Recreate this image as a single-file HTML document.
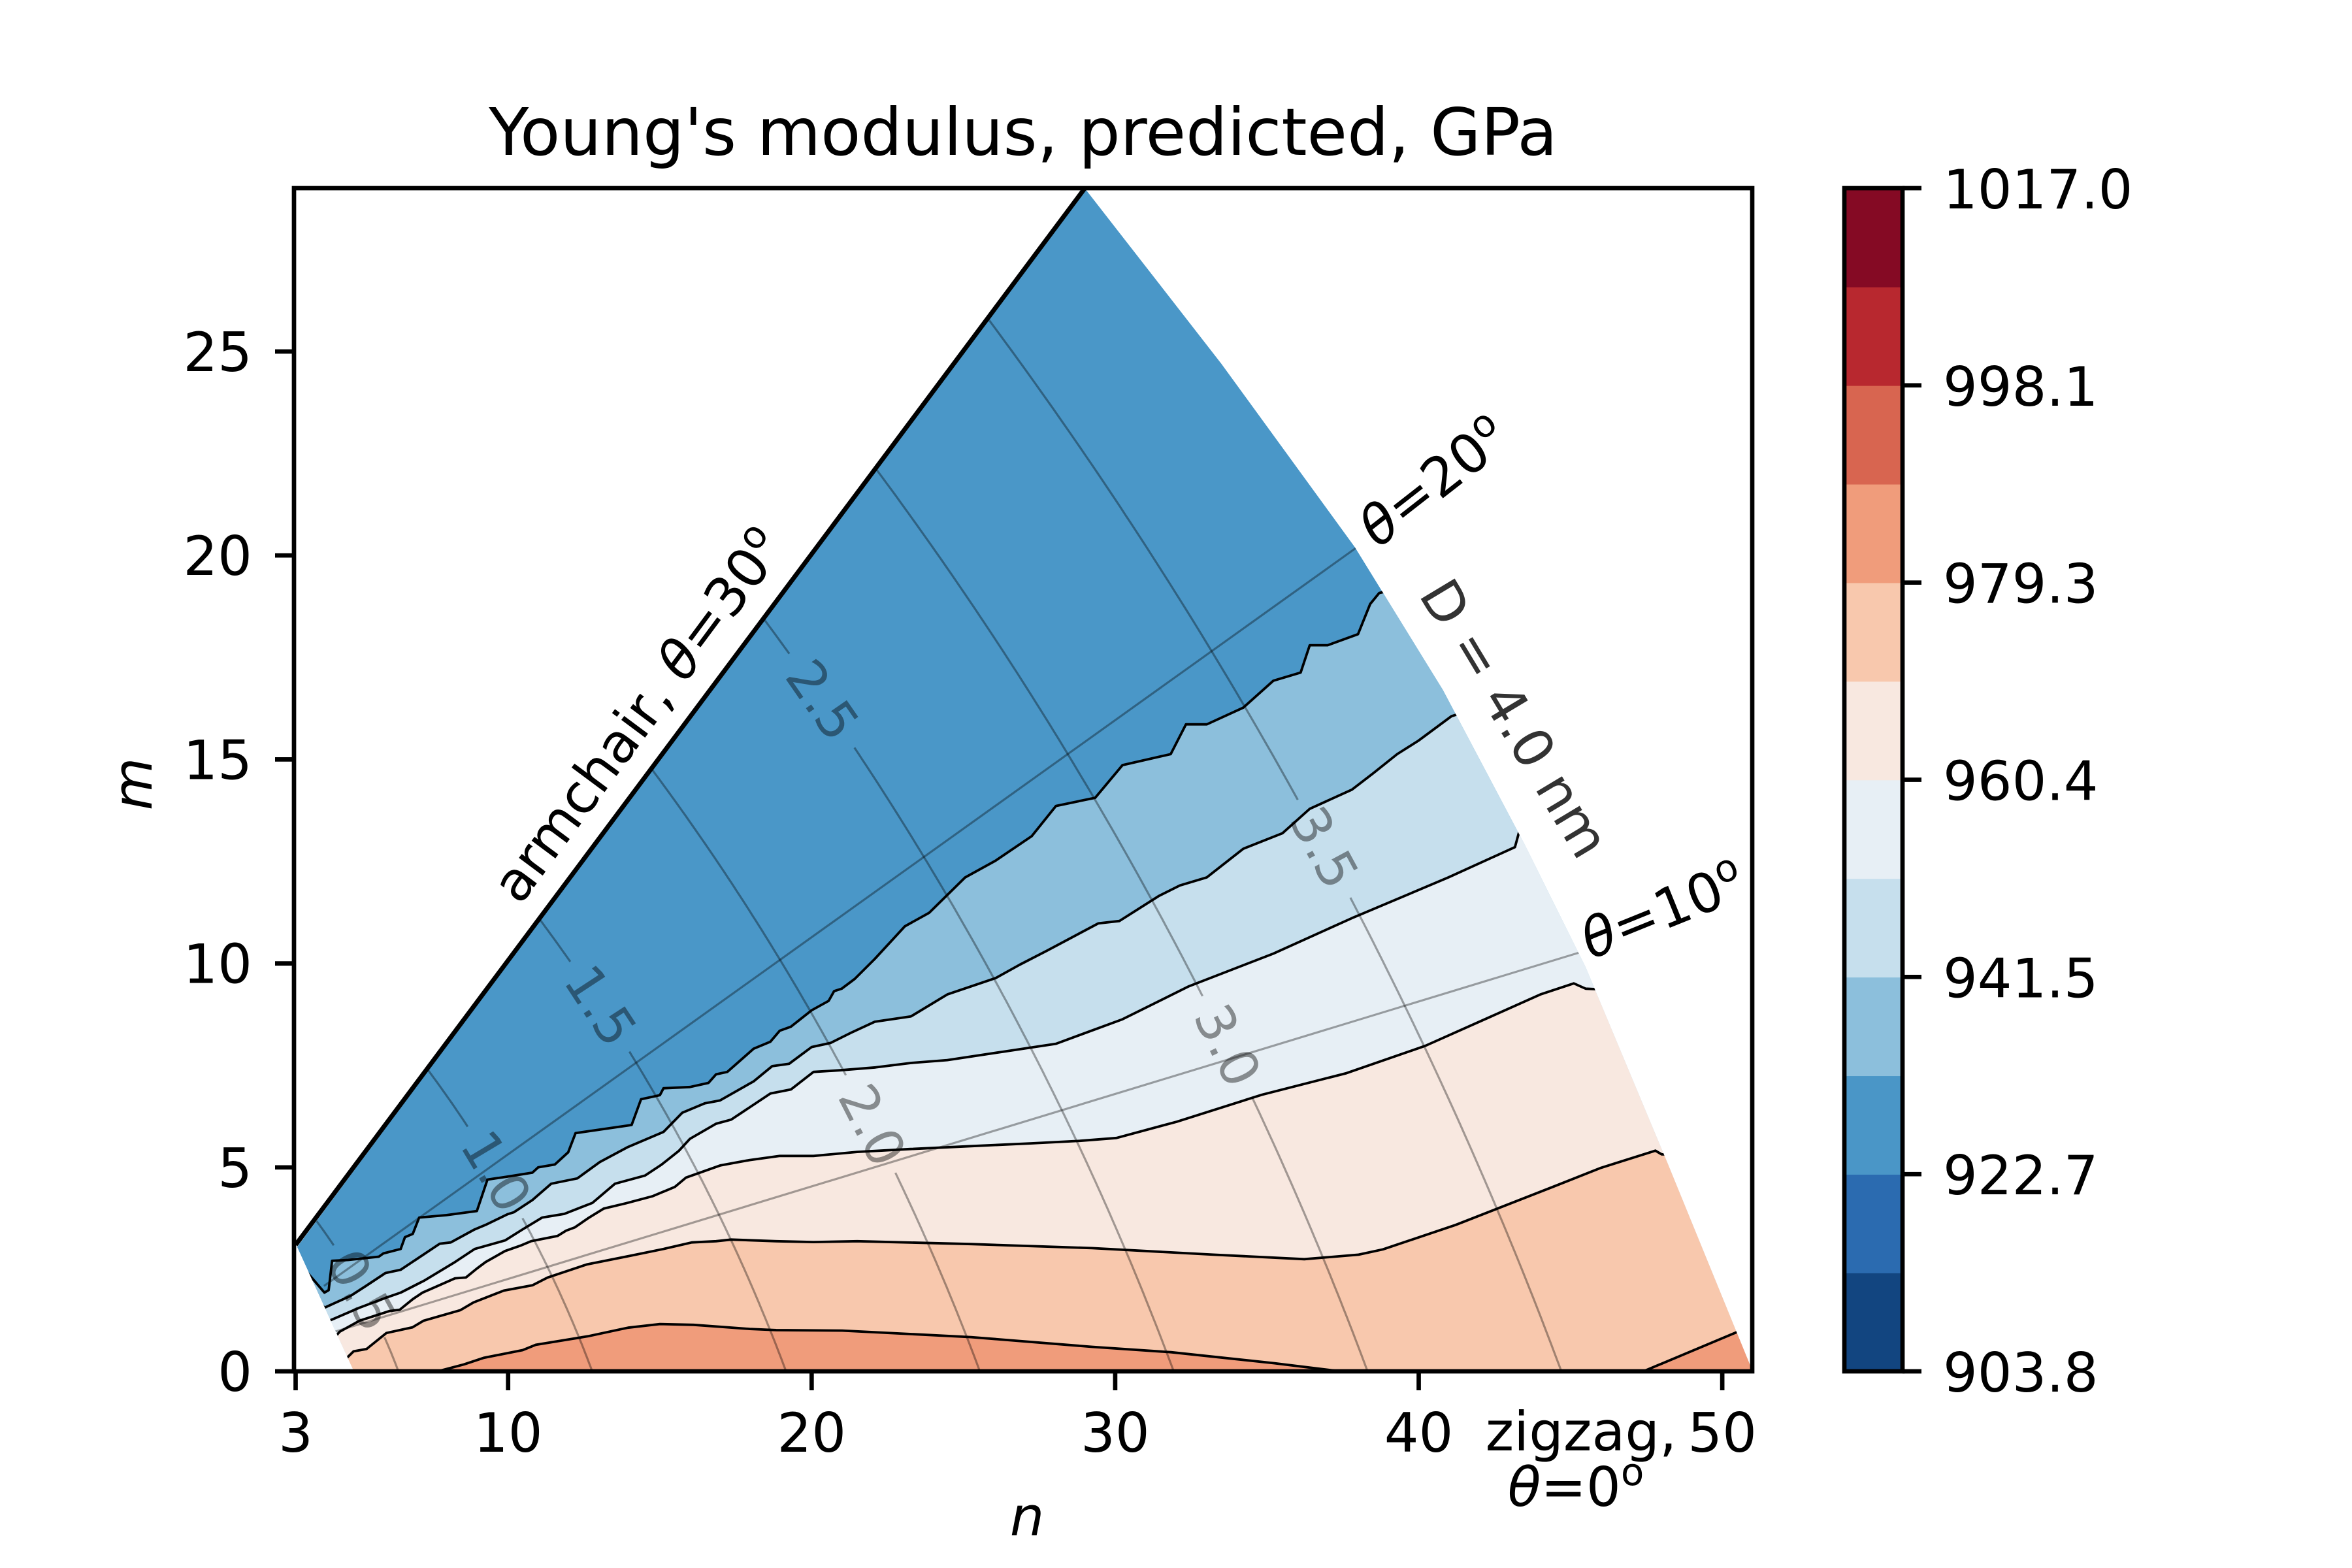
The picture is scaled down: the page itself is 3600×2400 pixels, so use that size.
<!DOCTYPE html>
<html><head><meta charset="utf-8">
<style>
html,body{margin:0;padding:0;background:#fff;}
svg{display:block;}
text{font-family:"DejaVu Sans","Liberation Sans",sans-serif;}
</style></head>
<body>
<svg id="chart" width="3600" height="2400" viewBox="0 0 3600 2400" xmlns="http://www.w3.org/2000/svg">
<defs>
  <clipPath id="axclip"><rect x="450" y="288" width="2232" height="1811"/></clipPath>
  <clipPath id="domclip"><polygon id="dompoly" points=""/></clipPath>
</defs>
<g id="plot" clip-path="url(#axclip)">
  <g id="fills" clip-path="url(#domclip)"></g>
  <g id="guides" clip-path="url(#domclip)"></g>
  <g id="clines" clip-path="url(#domclip)"></g>
  <g id="armchair"></g>
</g>
<g id="dlabels"></g>
<rect x="450" y="288" width="2232" height="1811" fill="none" stroke="#000" stroke-width="6.7"/>
<g id="xticks"></g>
<g id="yticks"></g>
<g id="cbar"></g>
<text x="1566" y="237" font-size="100" text-anchor="middle">Young's modulus, predicted, GPa</text>
<text x="1572" y="2350" font-size="83" font-style="italic" text-anchor="middle">n</text>
<text transform="translate(232,1200) rotate(-90)" font-size="83" font-style="italic" text-anchor="middle">m</text>
<text transform="translate(1000,1112) rotate(-53.4)" font-size="83" text-anchor="middle">armchair, <tspan font-style="italic">θ</tspan>=30<tspan font-size="58" dy="-32">o</tspan></text>
<text transform="translate(2212,760) rotate(-38)" font-size="83" text-anchor="middle"><tspan font-style="italic">θ</tspan>=20<tspan font-size="58" dy="-32">o</tspan></text>
<text transform="translate(2556,1420) rotate(-22)" font-size="83" text-anchor="middle"><tspan font-style="italic">θ</tspan>=10<tspan font-size="58" dy="-32">o</tspan></text>
<text transform="translate(2318,1100) rotate(59)" font-size="83" fill="#333" text-anchor="middle" dominant-baseline="central">D = 4.0 nm</text>
<text x="2420" y="2220" font-size="83" text-anchor="middle">zigzag,</text>
<text x="2412" y="2305" font-size="83" text-anchor="middle"><tspan font-style="italic">θ</tspan>=0<tspan font-size="58" dy="-32">o</tspan></text>
</svg>
<script>
// ---- data ----
const xTicks = [3, 10, 20, 30, 40, 50];
const yTicks = [0, 5, 10, 15, 20, 25];
const cbarTicks = ["903.8", "922.7", "941.5", "960.4", "979.3", "998.1", "1017.0"];
const cbarColors = ["#124580", "#2b6bb0", "#4a96c7", "#8cbfdc", "#c6dfed", "#e7eff5", "#f8e8e0", "#f8c8ad", "#f09c7b", "#d86550", "#b8282f", "#850a24"];
const topBandColor = "#4a97c8";
const bandColors = ["#8cbfdc", "#c6dfed", "#e7eff5", "#f8e8e0", "#f8c8ad", "#f09c7b", "#f09c7b"];
const line1 = [[3.09,2.68],[3.95,1.93],[4.09,1.99],[4.2,2.71],[4.74,2.73],[5.74,2.81],[5.89,2.89],[6.46,3.0],[6.6,3.29],[6.86,3.37],[7.07,3.77],[7.97,3.83],[8.97,3.93],[9.32,4.7],[9.94,4.77],[10.8,4.87],[10.99,5.0],[11.54,5.07],[11.98,5.37],[12.22,5.84],[13.89,6.02],[14.07,6.04],[14.38,6.67],[15.0,6.77],[15.12,6.94],[15.99,6.97],[16.6,7.07],[16.85,7.28],[17.22,7.34],[18.09,7.91],[18.64,8.08],[18.95,8.35],[19.32,8.45],[20.0,8.85],[20.56,9.08],[20.74,9.32],[20.99,9.38],[21.42,9.62],[22.08,10.11],[23.07,10.91],[23.87,11.24],[25.06,12.11],[26.06,12.52],[27.25,13.12],[28.05,13.86],[29.34,14.06],[30.24,14.86],[31.83,15.13],[32.33,15.86],[33.02,15.86],[34.22,16.27],[35.21,16.93],[36.11,17.13],[36.41,17.8],[37.0,17.8],[38.0,18.07],[38.4,18.81],[38.7,19.08],[40,19.3],[42,19.3]];
const line2 = [[3.45,1.99],[3.95,1.56],[4.81,1.85],[5.31,2.09],[5.96,2.41],[6.46,2.49],[6.68,2.6],[7.75,3.13],[8.11,3.16],[8.9,3.48],[9.26,3.59],[9.98,3.85],[10.19,3.9],[10.8,4.2],[11.42,4.6],[12.28,4.73],[13.02,5.13],[13.95,5.5],[15.12,5.87],[15.74,6.34],[16.48,6.57],[16.98,6.64],[18.09,7.11],[18.7,7.48],[19.26,7.54],[20.0,7.95],[20.62,8.05],[21.3,8.3],[22.08,8.57],[23.27,8.7],[24.47,9.24],[26.06,9.64],[26.86,9.97],[27.75,10.31],[29.44,10.98],[30.14,11.04],[31.43,11.65],[32.13,11.91],[33.02,12.11],[34.22,12.81],[35.51,13.19],[36.41,13.79],[37.8,14.26],[38.5,14.66],[39.29,15.13],[39.99,15.46],[41.08,16.06],[43,16.5]];
const line3 = [[3.77,1.32],[3.95,1.19],[5.1,1.56],[5.96,1.8],[6.46,1.93],[7.25,2.23],[8.25,2.68],[8.9,3.0],[9.9,3.21],[10.48,3.48],[11.12,3.77],[11.85,3.86],[12.78,4.13],[13.52,4.6],[14.51,4.8],[15.06,5.07],[15.62,5.4],[15.99,5.7],[16.85,6.07],[17.35,6.17],[18.64,6.81],[19.32,6.91],[20.06,7.34],[20.93,7.38],[22.1,7.45],[23.27,7.56],[24.47,7.63],[26.26,7.83],[28.05,8.03],[30.24,8.63],[32.43,9.44],[35.21,10.24],[37.8,11.11],[40.98,12.11],[43.17,12.85],[43.3,13.2],[45,13.5]];
const line4 = [[4.2,0.76],[4.45,0.97],[5.1,1.24],[6.1,1.48],[6.43,1.51],[6.86,1.77],[7.18,1.93],[7.61,2.07],[8.25,2.28],[8.61,2.3],[8.97,2.52],[9.26,2.68],[9.9,2.95],[10.4,3.08],[10.76,3.19],[11.63,3.32],[11.91,3.45],[12.2,3.53],[12.63,3.75],[13.15,3.99],[13.89,4.12],[14.75,4.29],[15.49,4.52],[15.86,4.75],[17.0,5.05],[17.96,5.18],[18.95,5.28],[20.06,5.28],[21.5,5.38],[23.26,5.45],[25.25,5.52],[27.25,5.59],[28.84,5.65],[30.04,5.72],[32.03,6.12],[34.83,6.78],[37.62,7.31],[40.22,7.98],[42.81,8.84],[44.01,9.24],[45.11,9.51],[45.5,9.38],[48,9.3]];
const line5 = [[4.62,0.28],[4.91,0.49],[5.34,0.55],[5.99,0.94],[6.85,1.08],[7.21,1.24],[8.43,1.5],[8.86,1.69],[9.86,1.98],[10.8,2.11],[11.3,2.3],[12.59,2.62],[14.01,2.83],[15.12,3.0],[16.05,3.16],[16.85,3.19],[17.35,3.23],[18.83,3.19],[20.06,3.17],[21.5,3.19],[25.25,3.12],[29.24,3.02],[33.23,2.86],[36.23,2.75],[38.02,2.86],[38.82,2.99],[41.22,3.59],[44.41,4.52],[46.01,4.99],[47.8,5.41],[48.0,5.32],[50,5.3]];
const line6 = [[7.68,0.0],[8.54,0.17],[9.19,0.33],[10.48,0.52],[10.91,0.65],[12.63,0.86],[13.95,1.07],[15.0,1.16],[16.11,1.14],[17.96,1.04],[18.83,1.01],[21.0,1.0],[25.25,0.84],[29.24,0.6],[31.84,0.47],[35.23,0.2],[37.42,0.0],[39,-0.3]];
const line7 = [[47.4,0.0],[50.6,1.0],[52,1.9]];
const contourLines = [line1, line2, line3, line4, line5, line6, line7];
const dLevels = [0.5, 1.0, 1.5, 2.0, 2.5, 3.0, 3.5];
const dLabelTheta = [15.6, 19.4, 23.9, 11.8, 26.5, 10.4, 14.4];
const chiralAngles = [10, 20];
const domainInner = [[3.05,3.05],[4.92,0]];
const domainOuter = [[51.0,0],[48.2,5.1],[45.5,9.9],[43.5,12.9],[40.8,16.7],[37.9,20.2],[33.5,24.7],[29.0,29.0],[29.6,29.6]];
const nmPerUnit = 0.0783;

// ---- axes ----
const X0 = 452.5, KX = 46.46, Y0 = 2099, KY = 62.44;
const px = n => X0 + (n - 3) * KX;
const py = m => Y0 - m * KY;
const NS = "http://www.w3.org/2000/svg";
function mk(tag, parent, attrs) {
  const e = document.createElementNS(NS, tag);
  for (const k in attrs) e.setAttribute(k, attrs[k]);
  parent.appendChild(e);
  return e;
}
const ptsStr = arr => arr.map(p => px(p[0]).toFixed(1) + "," + py(p[1]).toFixed(1)).join(" ");
const S3 = Math.sqrt(3);
function chiral(R, thDeg) {
  const t = thDeg * Math.PI / 180;
  return [R * (Math.cos(t) - Math.sin(t) / S3), 2 * R * Math.sin(t) / S3];
}

// domain
const dom = [];
domainInner.forEach(p => dom.push(p));
domainOuter.forEach(p => dom.push(p));
document.getElementById("dompoly").setAttribute("points", ptsStr(dom));

// fills
const fills = document.getElementById("fills");
const base = mk("polygon", fills, {points: ptsStr(dom), fill: topBandColor});


contourLines.forEach((ln, i) => {
  const f = ln[0], l = ln[ln.length - 1];
  const poly = [];
  if (f[1] < 0.1) { poly.push([f[0], -3]); } else { poly.push([-5, -5]); poly.push([f[0] - 2, f[1]]); }
  ln.forEach(p => poly.push(p));
  if (l[1] < 0.1) { poly.push([l[0], -3]); } else { poly.push([l[0] + 3, l[1]]); poly.push([60, -5]); }
  const pg = mk("polygon", fills, {points: ptsStr(poly), fill: bandColors[i]});
  
  
});

// guide lines: constant diameter curves with label gaps
const guides = document.getElementById("guides");
const dl = document.getElementById("dlabels");
dLevels.forEach((D, i) => {
  const R = D / nmPerUnit;
  const lab = chiral(R, dLabelTheta[i]);
  const lx = px(lab[0]), ly = py(lab[1]);
  let seg = [], segs = [];
  for (let th = 0; th <= 30.001; th += 0.25) {
    const p = chiral(R, th);
    const d = Math.hypot(px(p[0]) - lx, py(p[1]) - ly);
    if (d < 80) { if (seg.length) segs.push(seg); seg = []; }
    else seg.push(p);
  }
  if (seg.length) segs.push(seg);
  segs.forEach(s => {
    if (s.length < 2) return;
    const pl = mk("polyline", guides, {points: ptsStr(s), fill: "none", stroke: "#000", "stroke-opacity": "0.35", "stroke-width": "3.2"});
    
    
  });
  const a = chiral(R, dLabelTheta[i] - 0.5), b = chiral(R, dLabelTheta[i] + 0.5);
  let dx = px(a[0]) - px(b[0]), dy = py(a[1]) - py(b[1]);
  if (dx < 0) { dx = -dx; dy = -dy; }
  const ang = Math.atan2(dy, dx) * 180 / Math.PI;
  const t = mk("text", dl, {transform: "translate(" + lx.toFixed(1) + "," + ly.toFixed(1) + ") rotate(" + ang.toFixed(1) + ")", "font-size": "80", fill: "#000", "fill-opacity": "0.42", "text-anchor": "middle", "dominant-baseline": "central"});
  t.textContent = D.toFixed(1);
  
  
});
chiralAngles.forEach(th => {
  const p0 = chiral(th === 10 ? 4.5 : 5.3, th), p1 = chiral(52, th);
  const ln = mk("polyline", guides, {points: ptsStr([p0, p1]), fill: "none", stroke: "#000", "stroke-opacity": "0.35", "stroke-width": "3.2"});
  
  
});

// contour lines
const cl = document.getElementById("clines");
contourLines.forEach((ln, i) => {
  const pl = mk("polyline", cl, {points: ptsStr(ln), fill: "none", stroke: "#000", "stroke-width": "3.8", "stroke-linejoin": "round"});
  
  
});

// armchair
const arm = mk("line", document.getElementById("armchair"), {x1: px(3), y1: py(3.1), x2: px(29.6), y2: py(29.6), stroke: "#000", "stroke-width": "7"});



// x ticks
const xg = document.getElementById("xticks");
xTicks.forEach(v => {
  const x = px(v);
  const tk = mk("line", xg, {x1: x, y1: 2099, x2: x, y2: 2128, stroke: "#000", "stroke-width": "6.7"});
  
  
  const t = mk("text", xg, {x: x, y: 2222, "font-size": "83", "text-anchor": "middle"});
  t.textContent = v;
  
  
});
// y ticks
const yg = document.getElementById("yticks");
yTicks.forEach(v => {
  const y = py(v);
  const tk = mk("line", yg, {x1: 421, y1: y, x2: 450, y2: y, stroke: "#000", "stroke-width": "6.7"});
  
  
  const t = mk("text", yg, {x: 386, y: y + 30, "font-size": "83", "text-anchor": "end"});
  t.textContent = v;
  
  
});

// colorbar
const cb = document.getElementById("cbar");
const CX0 = 2823, CX1 = 2912, CT = 288, CB = 2099;
const bh = (CB - CT) / cbarColors.length;
cbarColors.forEach((c, i) => {
  const r = mk("rect", cb, {x: CX0, y: (CB - (i + 1) * bh).toFixed(2), width: CX1 - CX0, height: (bh + 0.8).toFixed(2), fill: c});
  
  
});
const fr = mk("rect", cb, {x: CX0, y: CT, width: CX1 - CX0, height: CB - CT, fill: "none", stroke: "#000", "stroke-width": "6.7"});


cbarTicks.forEach((lbl, i) => {
  const y = CB - i * (CB - CT) / (cbarTicks.length - 1);
  const tk = mk("line", cb, {x1: CX1, y1: y, x2: CX1 + 29, y2: y, stroke: "#000", "stroke-width": "6.7"});
  
  
  const t = mk("text", cb, {x: 2974, y: y + 31, "font-size": "83"});
  t.textContent = lbl;
  
  
});
</script>
</body></html>
